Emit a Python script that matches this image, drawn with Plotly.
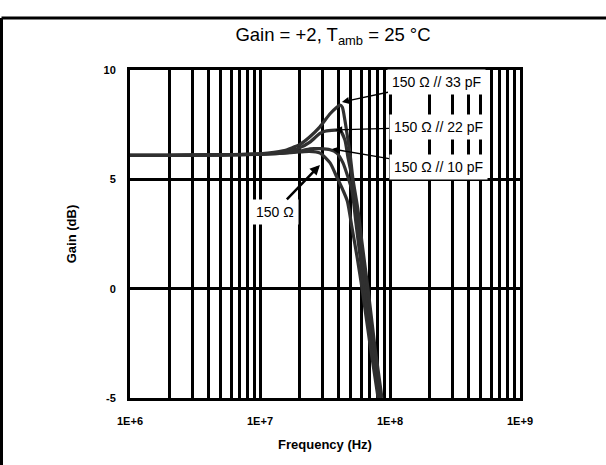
import numpy as np
import plotly.graph_objects as go

# ---------------- data ----------------
f_150 = [1e6, 2e6, 5e6, 1e7, 1.5e7, 2e7, 2.4e7, 2.9e7, 3.46e7, 3.9e7, 4.35e7, 4.7e7,
         5.1e7, 5.6e7, 6.1e7, 7.0e7, 8.1e7]
g_150 = [6.1, 6.1, 6.12, 6.15, 6.2, 6.25, 6.28, 6.2, 5.75, 5.1, 4.5, 4.0,
         2.8, 1.4, 0.0, -2.5, -5.0]

f_10 = [1e6, 2e6, 5e6, 1e7, 1.5e7, 2.03e7, 2.42e7, 2.89e7, 3.46e7, 3.9e7, 4.35e7, 4.75e7,
        5.1e7, 5.47e7, 5.88e7, 6.31e7, 7.3e7, 8.23e7]
g_10 = [6.1, 6.1, 6.12, 6.15, 6.2, 6.3, 6.4, 6.4, 6.35, 6.2, 5.75, 5.1,
        4.5, 3.0, 1.5, 0.0, -2.6, -5.0]

f_22 = [1e6, 2e6, 5e6, 1e7, 1.5e7, 2.03e7, 2.42e7, 2.89e7, 3.16e7, 3.78e7, 4.12e7, 4.5e7,
        4.75e7, 5.1e7, 5.47e7, 5.98e7, 6.54e7, 7.4e7, 8.38e7]
g_22 = [6.1, 6.1, 6.12, 6.15, 6.25, 6.45, 6.7, 7.1, 7.2, 7.25, 7.25, 6.8,
        6.0, 5.1, 3.6, 1.8, 0.0, -2.5, -5.0]

f_33 = [1e6, 2e6, 5e6, 1e7, 1.5e7, 2.03e7, 2.42e7, 2.89e7, 3.46e7, 3.9e7, 4.12e7, 4.3e7,
        4.5e7, 4.75e7, 4.92e7, 5.19e7, 5.67e7, 6.09e7, 6.77e7, 7.67e7, 8.67e7]
g_33 = [6.1, 6.1, 6.12, 6.17, 6.3, 6.6, 6.95, 7.4, 8.0, 8.3, 8.4, 8.3,
        7.7, 6.8, 6.2, 5.0, 3.6, 2.1, 0.0, -2.7, -5.0]

# label text and the curve point each arrow points to
label_texts = ["150 Ω // 33 pF", "150 Ω // 22 pF", "150 Ω // 10 pF", "150 Ω"]
label_tip_f = [4.27e7, 3.78e7, 3.58e7, 2.89e7]
label_tip_g = [8.54, 7.26, 6.39, 5.66]

x_tickvals = [1e6, 1e7, 1e8, 1e9]
x_ticktext = ["1E+6", "1E+7", "1E+8", "1E+9"]
y_tickvals = [-5, 0, 5, 10]
y_ticktext = ["-5", "0", "5", "10"]

title_text = "Gain = +2, T<sub>amb</sub> = 25 °C"
x_title = "Frequency (Hz)"
y_title = "Gain (dB)"

# ---------------- figure ----------------
FONT = "Liberation Sans, Arial, sans-serif"
curve_color = "#303030"

fig = go.Figure()
for fx, gy in [(f_150, g_150), (f_10, g_10), (f_22, g_22), (f_33, g_33)]:
    fig.add_trace(go.Scatter(x=fx, y=gy, mode="lines",
                             line=dict(color=curve_color, width=3.2, shape="spline", smoothing=0.6),
                             showlegend=False, hoverinfo="skip"))

minor_vals = [m * 10 ** d for d in range(6, 9) for m in range(2, 10)]

fig.update_xaxes(type="log", range=[6, 9],
                 tickvals=x_tickvals, ticktext=x_ticktext,
                 showgrid=True, gridcolor="black", gridwidth=2.5,
                 minor=dict(tickvals=minor_vals, showgrid=True, gridcolor="black", gridwidth=2.5),
                 showline=True, linecolor="black", linewidth=3, mirror=True,
                 ticks="", ticklabelstandoff=11,
                 tickfont=dict(family=FONT, size=11, color="black", weight="bold"),
                 title=dict(text=x_title, standoff=14,
                            font=dict(family=FONT, size=13, color="black", weight="bold")),
                 zeroline=False)
fig.update_yaxes(range=[-5, 10], tickvals=y_tickvals, ticktext=y_ticktext,
                 showgrid=True, gridcolor="black", gridwidth=2.5,
                 showline=True, linecolor="black", linewidth=3, mirror=True,
                 ticks="", ticklabelstandoff=9,
                 tickfont=dict(family=FONT, size=11, color="black", weight="bold"),
                 title=dict(text=y_title, standoff=24,
                            font=dict(family=FONT, size=13, color="black", weight="bold")),
                 zeroline=False)

offsets = [(95, -20), (103, -3), (106, 18), (-45, 47)]
widths = [1.3, 1.3, 1.3, 2.5]
for txt, tf, tg, (ax, ay), w in zip(label_texts, label_tip_f, label_tip_g, offsets, widths):
    fig.add_annotation(x=np.log10(tf), y=tg, xref="x", yref="y",
                       text=txt, showarrow=True, ax=ax, ay=ay,
                       arrowhead=2, arrowsize=1.1 if w < 2 else 0.8, arrowwidth=w, arrowcolor="black",
                       bgcolor="white", borderpad=4,
                       font=dict(family=FONT, size=14, color="black"))

# outer frame (top and left edges visible)
L, R, T, B = 130, 86, 70, 67
W, H = 606 - L - R, 465 - T - B
fig.add_shape(type="line", xref="paper", yref="paper",
              x0=(1.5 - L) / W, x1=(606 - L) / W, y0=(465 - B - 18) / H, y1=(465 - B - 18) / H,
              line=dict(color="black", width=3))
fig.add_shape(type="line", xref="paper", yref="paper",
              x0=(1.5 - L) / W, x1=(1.5 - L) / W, y0=-B / H - 0.01, y1=(465 - B - 18) / H,
              line=dict(color="black", width=3))

fig.update_layout(
    width=606, height=465,
    margin=dict(l=L, r=R, t=T, b=B),
    paper_bgcolor="white", plot_bgcolor="white",
    font=dict(family=FONT, color="black"),
    title=dict(text=title_text, x=333 / 606, xanchor="center", xref="container",
               y=1 - 35 / 465, yanchor="middle", yref="container",
               font=dict(family=FONT, size=18.5, color="black")),
)

fig.write_html("out.html", config={"displayModeBar": False},
               post_script="document.body.style.margin='0';document.body.style.padding='0';")
